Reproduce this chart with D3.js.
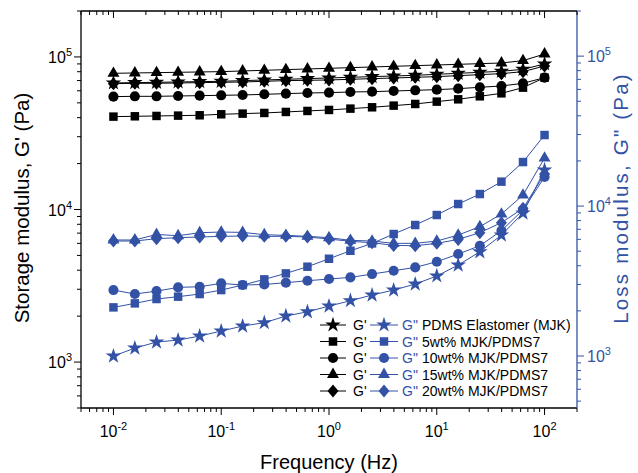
<!DOCTYPE html>
<html><head><meta charset="utf-8">
<script src="https://cdn.jsdelivr.net/npm/d3@7"></script>
<style>body{margin:0;background:#fff}svg{display:block}text{font-family:"Liberation Sans",Arial,sans-serif}</style>
</head><body><svg id="c" width="638" height="473"></svg>
<script>
const freq = [0.01,0.0158,0.0251,0.0398,0.0631,0.1,0.158,0.251,0.398,0.631,1,1.58,2.51,3.98,6.31,10,15.8,25.1,39.8,63.1,100];
const names = ["PDMS Elastomer (MJK)","5wt% MJK/PDMS7","10wt% MJK/PDMS7","15wt% MJK/PDMS7","20wt% MJK/PDMS7"];
const gStorage_PDMS = [67500,67840,68180,68520,68870,69220,69920,70630,71340,72060,72780,73520,74270,75010,75770,76930,78100,79300,80500,82960,89900];
const gStorage_5 = [40620,40820,41030,41240,41450,42080,42500,42930,43590,44250,44920,45830,46760,47950,49170,50930,52740,55190,57740,62910,73140];
const gStorage_10 = [54920,55190,55190,55470,55750,56030,56310,56890,57460,58040,58330,58920,59220,59810,60420,61030,61960,63220,64500,67160,73140];
const gStorage_15 = [78100,78490,78890,79300,79700,80100,80910,81730,82550,83370,84220,85060,85920,86800,87660,88550,89440,90340,91260,94530,104500];
const gStorage_20 = [66820,67160,67160,67500,67840,68180,68520,69220,69920,70270,70630,71340,72060,72780,73520,74270,75390,76540,77700,80100,87220];
const gLoss_PDMS = [999,1129,1239,1277,1358,1467,1584,1667,1848,1972,2153,2337,2550,2753,3018,3417,4041,4957,6408,8987,17400];
const gLoss_5 = [2110,2244,2399,2487,2590,2753,2973,3244,3556,3940,4454,5034,5636,6509,7476,8716,10320,12030,14550,19660,29770];
const gLoss_10 = [2753,2590,2709,2868,2898,3050,2973,3002,3083,3178,3261,3345,3520,3705,3899,4255,4787,5439,6852,9416,15620];
const gLoss_15 = [5939,5939,6470,6342,6643,6711,6676,6443,6376,6283,6154,5907,5845,5641,5641,5845,6408,7288,8846,11840,20910];
const gLoss_20 = [5845,5845,6064,6154,6218,6283,6316,6283,6283,6218,6031,5815,5700,5467,5439,5641,5994,6643,7752,9657,16350];
const xTickExps = [-2,-1,0,1,2];
const yLeftExps = [3,4,5];
const yRightExps = [3,4,5];

const BLUE = "#3352a6";
const L=81,R=577,T=11,B=408;
const svg = d3.select("#c");
const x = d3.scaleLog().domain([0.005,200]).range([L,R]);
const yL = d3.scaleLog().domain([500,2e5]).range([B,T]);
const yR = d3.scaleLog().domain([450,2e5]).range([B,T]);

function minorTicks(dom){
  const out=[]; const lo=Math.floor(Math.log10(dom[0])), hi=Math.ceil(Math.log10(dom[1]));
  for(let e=lo;e<=hi;e++) for(let m=1;m<=9;m++){const v=m*Math.pow(10,e); if(v>=dom[0]*0.999&&v<=dom[1]*1.001) out.push({v,major:m===1});}
  return out;
}
const g = svg.append("g");
g.append("line").attr("x1",L).attr("x2",R).attr("y1",T).attr("y2",T).attr("stroke","#000").attr("stroke-width",1.3);
g.append("line").attr("x1",L).attr("x2",R).attr("y1",B).attr("y2",B).attr("stroke","#000").attr("stroke-width",1.3);
g.append("line").attr("x1",L).attr("x2",L).attr("y1",T).attr("y2",B).attr("stroke","#000").attr("stroke-width",1.3);
g.append("line").attr("x1",R).attr("x2",R).attr("y1",T).attr("y2",B).attr("stroke",BLUE).attr("stroke-width",1.3);
minorTicks(x.domain()).forEach(t=>{
  const px=x(t.v), len=t.major?7:4;
  g.append("line").attr("x1",px).attr("x2",px).attr("y1",B).attr("y2",B+len).attr("stroke","#000");
  g.append("line").attr("x1",px).attr("x2",px).attr("y1",T).attr("y2",T+len).attr("stroke","#000");
});
minorTicks(yL.domain()).forEach(t=>{
  const py=yL(t.v), len=t.major?7:4;
  g.append("line").attr("x1",L-len).attr("x2",L).attr("y1",py).attr("y2",py).attr("stroke","#000");
});
minorTicks(yR.domain()).forEach(t=>{
  const py=yR(t.v), len=t.major?7:4;
  g.append("line").attr("x1",R).attr("x2",R+len).attr("y1",py).attr("y2",py).attr("stroke",BLUE);
});
function powLabel(sel,e,px,py,anchor,color){
  const t=sel.append("text").attr("x",px).attr("y",py).attr("text-anchor",anchor).attr("fill",color).attr("font-size",16);
  t.append("tspan").text("10");
  t.append("tspan").attr("dy",-7).attr("font-size",11).text(e);
}
xTickExps.forEach(e=>powLabel(g,e,x(Math.pow(10,e)),437,"middle","#000"));
yLeftExps.forEach(e=>powLabel(g,e,L-9,yL(Math.pow(10,e))+6,"end","#000"));
yRightExps.forEach(e=>powLabel(g,e,R+10,yR(Math.pow(10,e))+6,"start",BLUE));
svg.append("text").attr("x",(L+R)/2).attr("y",469).attr("text-anchor","middle").attr("font-size",20).text("Frequency (Hz)");
svg.append("text").attr("transform",`translate(29,208) rotate(-90)`).attr("text-anchor","middle").attr("font-size",20.5).text("Storage modulus, G' (Pa)");
svg.append("text").attr("transform",`translate(628,198) rotate(-90)`).attr("text-anchor","middle").attr("font-size",20.5).attr("letter-spacing",2.2).attr("fill",BLUE).text("Loss modulus, G\" (Pa)");

function marker(sel,type,cx,cy,color){
  if(type==="diamond"){
    sel.append("path").attr("d",`M${cx},${cy-6.5}L${cx+5.5},${cy}L${cx},${cy+6.5}L${cx-5.5},${cy}Z`).attr("fill",color);
  } else {
    const map={square:[d3.symbolSquare,72],circle:[d3.symbolCircle,80],triangle:[d3.symbolTriangle,62],star:[d3.symbolStar,75]};
    sel.append("path").attr("transform",`translate(${cx},${cy})`).attr("d",d3.symbol().type(map[type][0]).size(map[type][1])()).attr("fill",color);
  }
}
const types=["star","square","circle","triangle","diamond"];
const storage=[gStorage_PDMS,gStorage_5,gStorage_10,gStorage_15,gStorage_20];
const loss=[gLoss_PDMS,gLoss_5,gLoss_10,gLoss_15,gLoss_20];
const plot=svg.append("g");
function series(vals,yS,color,type){
  const pts=freq.map((f,i)=>[x(f),yS(vals[i])]);
  plot.append("path").attr("d",d3.line()(pts)).attr("fill","none").attr("stroke",color).attr("stroke-width",1);
  pts.forEach(p=>marker(plot,type,p[0],p[1],color));
}
for(let i=0;i<5;i++){ series(loss[i],yR,BLUE,types[i]); }
for(let i=0;i<5;i++){ series(storage[i],yL,"#000",types[i]); }

const lg=svg.append("g");
const rowY=[325,341.5,358,374.5,391];
names.forEach((n,i)=>{
  const y=rowY[i];
  lg.append("line").attr("x1",320).attr("x2",346).attr("y1",y).attr("y2",y).attr("stroke","#000");
  marker(lg,types[i],333,y,"#000");
  lg.append("text").attr("x",353).attr("y",y+5).attr("font-size",14).text("G'");
  lg.append("line").attr("x1",370).attr("x2",398).attr("y1",y).attr("y2",y).attr("stroke",BLUE);
  marker(lg,types[i],384,y,BLUE);
  lg.append("text").attr("x",402).attr("y",y+5).attr("font-size",14).attr("fill",BLUE).text("G\"");
  lg.append("text").attr("x",422).attr("y",y+5).attr("font-size",14).text(n);
});
</script></body></html>
